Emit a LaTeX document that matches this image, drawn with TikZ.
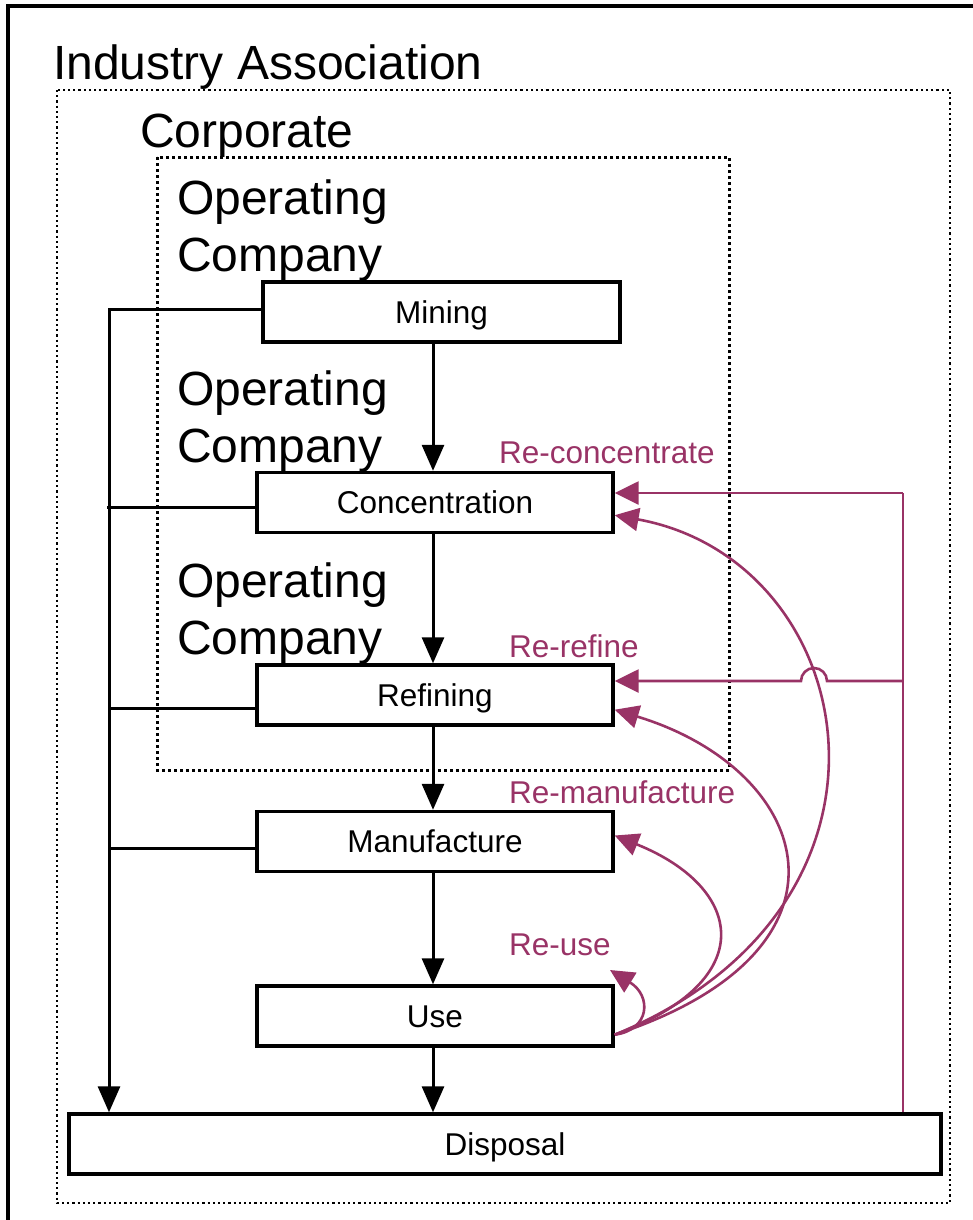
\documentclass[tikz,border=0pt]{standalone}
\usepackage{fontspec}
\setmainfont{Liberation Sans}
\usetikzlibrary{arrows.meta,calc}
\definecolor{plum}{RGB}{153,51,102}

\begin{document}
\begin{tikzpicture}[x=1pt,y=-1pt,
  stage/.style={draw,fill=white,line width=3.4pt,inner sep=0pt,
    minimum width=356pt,minimum height=60pt,text height=22pt,text depth=0pt,
    font=\fontsize{31.5}{37}\selectfont},
  flow/.style={line width=3pt,-{Triangle[length=26pt,width=22pt]}},
  link/.style={line width=3pt},
  feed/.style={plum,line width=2.6pt},
  loopback/.style={feed,-{Triangle[length=24pt,width=23pt]}},
  looplabel/.style={plum,anchor=base west,inner sep=0pt,font=\fontsize{31.5}{37}\selectfont},
  level/.style={anchor=base west,inner sep=0pt,font=\fontsize{48}{57}\selectfont},
  opco/.style={anchor=north west,inner sep=0pt,align=left,font=\fontsize{48}{57}\selectfont},
  assocframe/.style={line width=2.2pt,dash pattern=on 2.2pt off 3pt},
  corpframe/.style={line width=3pt,dash pattern=on 3pt off 3pt},
]
\useasboundingbox (0,0) rectangle (973,1220);

% outer frame (open to the right and bottom)
\draw[line width=3.5pt] (8,1230) -- (8,6) -- (985,6);

% organisational levels
\draw[assocframe] (57,90) rectangle (950,1203);
\draw[corpframe] (157,157) rectangle (729,770);
\node[level] (assoc) at (53,80) {Industry Association};
\node[level] (corp) at (140,147) {Corporate};
\node[opco] (op1) at (177,180) {Operating\\Company};
\node[opco] (op2) at (177,371) {Operating\\Company};
\node[opco] (op3) at (177,563) {Operating\\Company};

% life-cycle stages
\node[stage,minimum width=357pt] (mining) at (441.5,312) {Mining};
\node[stage] (conc) at (435,502.5) {Concentration};
\node[stage] (refin) at (435,695) {Refining};
\node[stage] (manu) at (435,841.5) {Manufacture};
\node[stage] (use) at (435,1016) {Use};
\node[stage,minimum width=872pt] (disp) at (505,1144) {Disposal};

% main downward flow
\coordinate (spine) at (433,0);
\draw[flow] (mining.south -| spine) -- (conc.north -| spine);
\draw[flow] (conc.south -| spine) -- (refin.north -| spine);
\draw[flow] (refin.south -| spine) -- (manu.north -| spine);
\draw[flow] (manu.south -| spine) -- (use.north -| spine);
\draw[flow] (use.south -| spine) -- (disp.north -| spine);

% waste bus on the left
\coordinate (bus) at (109,0);
\draw[flow] ([yshift=3pt]mining.west) coordinate (m0) -- (m0 -| bus) -- (disp.north -| bus);
\draw[link] ([yshift=-4.5pt]conc.west) coordinate (c0) -- ([xshift=-2pt]c0 -| bus);
\draw[link] ([yshift=-13pt]refin.west) coordinate (r0) -- (r0 -| bus);
\draw[link] ([yshift=-6.5pt]manu.west) coordinate (f0) -- (f0 -| bus);

% recovery from disposal
\coordinate (rbTop) at (903,493);
\coordinate (rbRef) at (903,681);
\draw[feed] (rbTop) -- (disp.north -| rbTop);
\draw[loopback] (rbTop) -- (conc.east |- rbTop);
\draw[loopback] (rbRef) -- (827,681) arc[start angle=0,end angle=180,radius=13pt]
  -- (refin.east |- rbRef);

% recovery after use
\coordinate (useOut) at ([yshift=13pt]use.south east);
\coordinate (reuseTip) at (610,970);
\draw[loopback] (useOut) .. controls (930,905) and (862,560) .. ([yshift=19pt]conc.south east);
\draw[loopback] (useOut) .. controls (872,950) and (813,770) .. ([yshift=17pt]refin.south east);
\draw[loopback] (useOut) .. controls (763,980) and (743,887) .. ([yshift=6pt]manu.east);
\draw[loopback] (useOut) .. controls (650,1030) and (652,996) .. (reuseTip);

\node[looplabel] (lconc) at (499,463) {Re-concentrate};
\node[looplabel] (lref) at (509,657) {Re-refine};
\node[looplabel] (lman) at (509,803) {Re-manufacture};
\node[looplabel] (luse) at (509,955) {Re-use};
\end{tikzpicture}
\end{document}
